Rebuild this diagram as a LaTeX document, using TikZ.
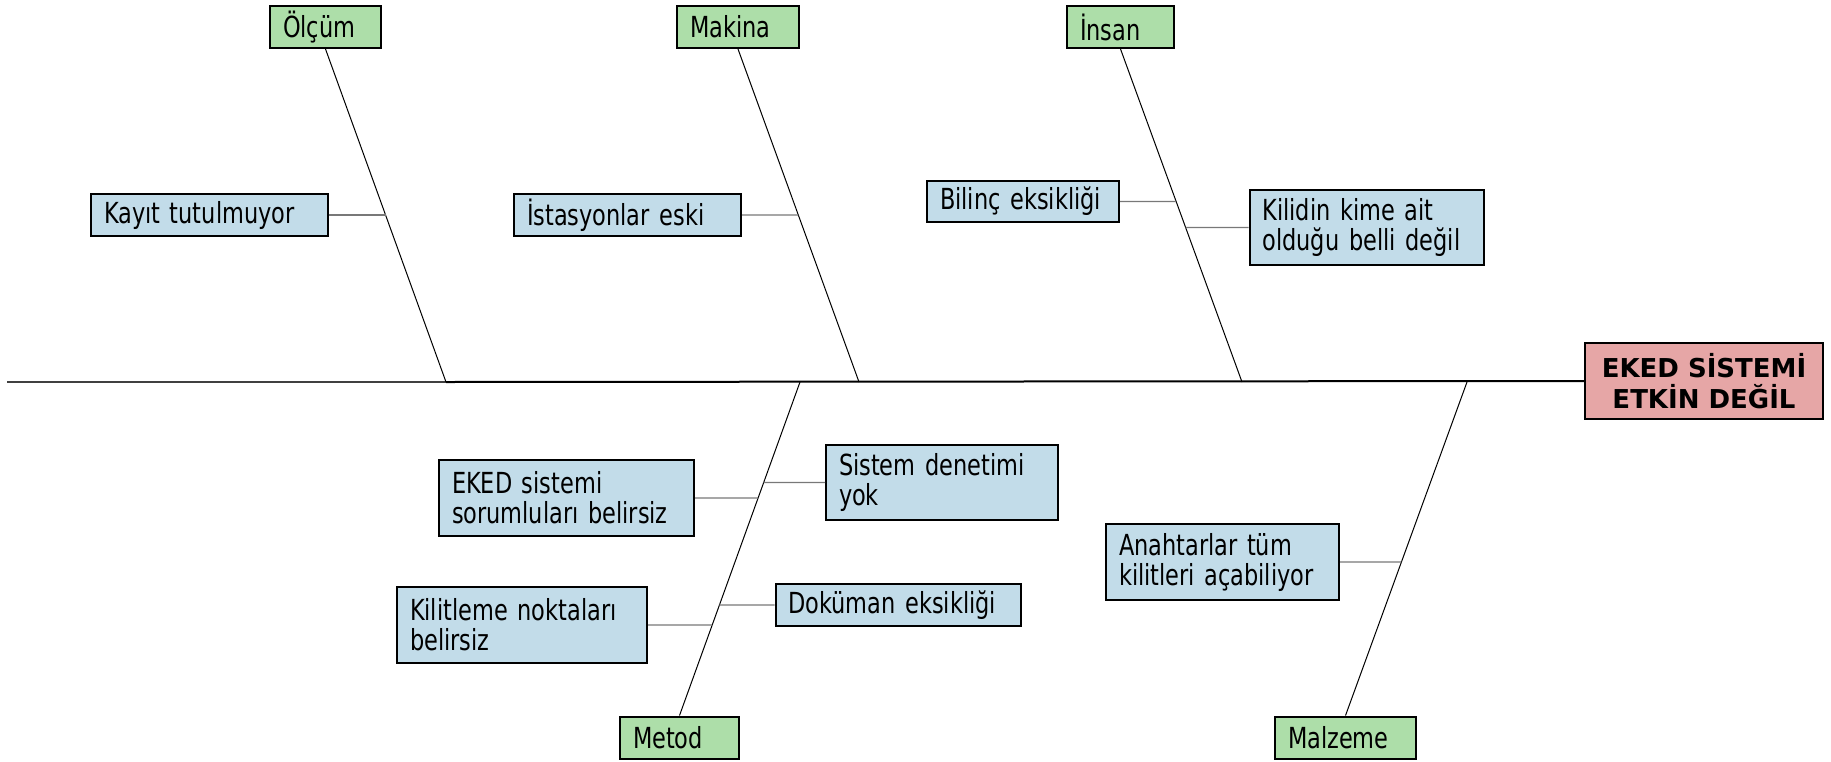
\documentclass[tikz,border=0pt]{standalone}
\usepackage{fontspec}
\setmainfont{DejaVu Sans Condensed}[FakeStretch=0.86]
\newfontfamily\efffont{DejaVu Sans}
\hyphenpenalty=10000
\exhyphenpenalty=10000
\definecolor{catgreen}{RGB}{173,222,169}
\definecolor{causeblue}{RGB}{194,220,233}
\definecolor{effred}{RGB}{230,166,166}
\definecolor{subgray}{RGB}{120,120,120}
\tikzset{
  basebox/.style={draw=black, line width=2pt, inner xsep=13pt, inner ysep=2pt, align=left,
    font=\fontsize{29}{30}\selectfont},
  catbox/.style={basebox, fill=catgreen, minimum height=42pt},
  causebox/.style={basebox, fill=causeblue},
  effbox/.style={draw=black, line width=2pt, fill=effred, align=center, inner sep=2pt,
    font=\efffont\fontsize{26}{31}\selectfont\bfseries},
  bone/.style={line width=1pt, black},
  subline/.style={line width=1.3pt, subgray},
}
\begin{document}
\begin{tikzpicture}[x=1pt,y=-1pt]
\useasboundingbox (0,0) rectangle (1831,761);

% category boxes
\node[catbox, text width=85pt] (olcum) at (325.5,27) {Ölçüm};
\node[catbox, text width=96pt] (makina) at (738,27) {Makina};
\node[catbox, text width=81pt] (insan) at (1120.5,27) {İnsan};
\node[catbox, text width=93pt] (metod) at (679.5,737.5) {Metod};
\node[catbox, text width=115pt] (malzeme) at (1345.5,737.5) {Malzeme};

% effect
\node[effbox, minimum width=238pt, minimum height=76pt] (eff) at (1704,381) {EKED SİSTEMİ\\ETKİN DEĞİL};

% spine
\coordinate (left) at (7,382);
\coordinate (j1) at (446,382);
\coordinate (j2) at (859,382);
\coordinate (j3) at (1242,382);
\coordinate (j4) at (800,382);
\coordinate (j5) at (1467,382);
\draw[line width=1.3pt, black!75] (left) -- (j1);
\draw[line width=2pt, black] (j1) -- (eff.west);

% bones
\draw[bone] (olcum.south) -- (j1);
\draw[bone] (makina.south) -- (j2);
\draw[bone] (insan.south) -- (j3);
\draw[bone] (metod.north) -- (j4);
\draw[bone] (malzeme.north) -- (j5);

% cause boxes
\node[causebox, text width=211pt, minimum height=42pt] (kayit) at (209.5,215) {Kayıt tutulmuyor};
\node[causebox, text width=201pt, minimum height=42pt] (istasyon) at (627.5,215) {İstasyonlar eski};
\node[causebox, text width=166pt, minimum height=41pt] (bilinc) at (1023,201.5) {Bilinç eksikliği};
\node[causebox, text width=208pt, minimum height=75pt] (kilidin) at (1366.5,227.5) {Kilidin kime ait\\olduğu belli değil};
\node[causebox, text width=229pt, minimum height=76pt] (eked) at (566.5,498) {EKED sistemi\\sorumluları belirsiz};
\node[causebox, text width=206pt, minimum height=75pt] (denetim) at (942,482.5) {Sistem denetimi\\yok};
\node[causebox, text width=224pt, minimum height=76pt] (kilitleme) at (522,625) {Kilitleme noktaları\\belirsiz};
\node[causebox, text width=219pt, minimum height=42pt] (dokuman) at (898,605) {Doküman eksikliği};
\node[causebox, text width=207pt, minimum height=76pt] (anahtar) at (1222.5,562) {Anahtarlar tüm\\kilitleri açabiliyor};

% sub-cause connectors
\draw[subline] (kayit.east) -- (intersection of kayit.east--kayit.west and olcum.south--j1);
\draw[subline] (istasyon.east) -- (intersection of istasyon.east--istasyon.west and makina.south--j2);
\draw[subline] (bilinc.east) -- (intersection of bilinc.east--bilinc.west and insan.south--j3);
\draw[subline] (kilidin.west) -- (intersection of kilidin.east--kilidin.west and insan.south--j3);
\draw[subline] (eked.east) -- (intersection of eked.east--eked.west and metod.north--j4);
\draw[subline] (denetim.west) -- (intersection of denetim.east--denetim.west and metod.north--j4);
\draw[subline] (kilitleme.east) -- (intersection of kilitleme.east--kilitleme.west and metod.north--j4);
\draw[subline] (dokuman.west) -- (intersection of dokuman.east--dokuman.west and metod.north--j4);
\draw[subline] (anahtar.east) -- (intersection of anahtar.east--anahtar.west and malzeme.north--j5);
\end{tikzpicture}
\end{document}
